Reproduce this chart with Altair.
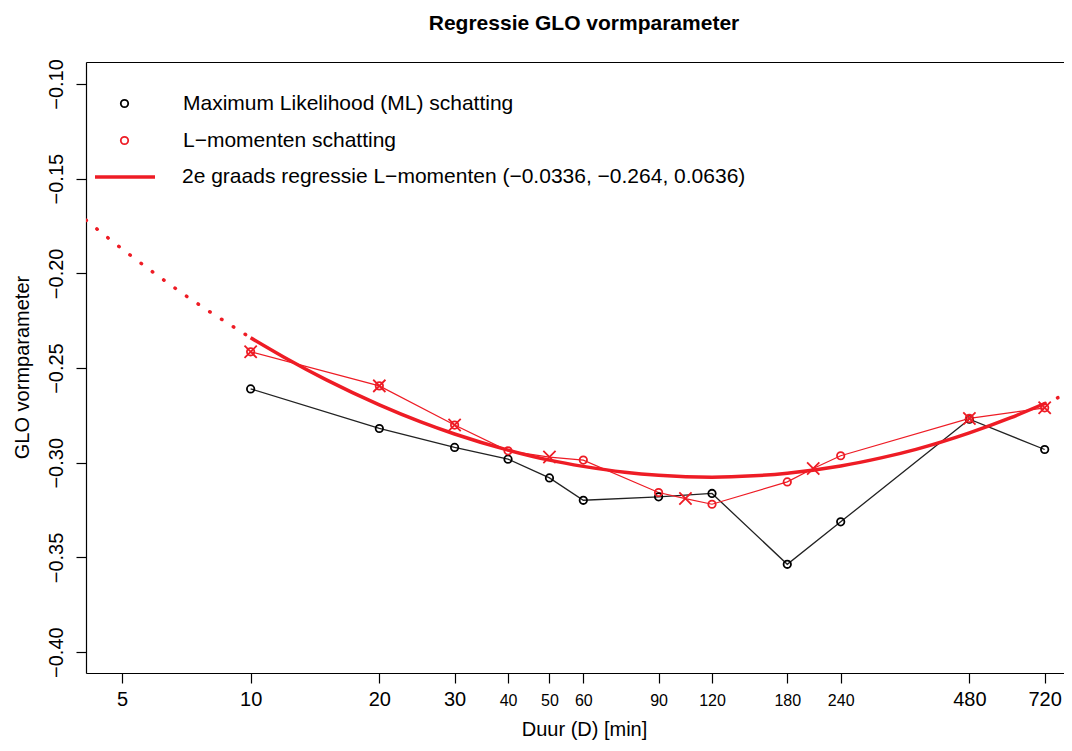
import altair as alt
import pandas as pd

# --- data ---
duur = [10, 20, 30, 40, 50, 60, 90, 120, 180, 240, 480, 720]
ml = [-0.2610, -0.2819, -0.2919, -0.2981, -0.3080, -0.3198, -0.3180, -0.3162, -0.3536, -0.3312, -0.2770, -0.2930]

lmom_duur = [10, 20, 30, 40, 60, 90, 120, 180, 240, 480, 720]
lmom = [-0.2414, -0.2594, -0.2801, -0.2937, -0.2986, -0.3157, -0.3219, -0.3101, -0.2963, -0.2766, -0.2710]

kruis_duur = [10, 20, 30, 50, 104, 207, 480, 720]
kruis = [-0.2414, -0.2594, -0.2801, -0.2970, -0.3189, -0.3030, -0.2766, -0.2710]

curve_duur = [10, 12, 15, 20, 25, 30, 40, 50, 60, 75, 90, 120, 150, 180, 240, 300, 360, 480, 600, 720]
curve = [-0.2340, -0.2444, -0.2561, -0.2694, -0.2784, -0.2848, -0.2933, -0.2986, -0.3019, -0.3050,
         -0.3066, -0.3076, -0.3069, -0.3055, -0.3017, -0.2973, -0.2929, -0.2842, -0.2762, -0.2687]

dot_l_duur = [4.12, 4.5, 5, 6, 7, 8, 10]
dot_l = [-0.1719, -0.1789, -0.1871, -0.2005, -0.2113, -0.2201, -0.2340]
dot_r_duur = [720, 760, 799]
dot_r = [-0.2687, -0.2664, -0.2641]

x_ticks = [5, 10, 20, 30, 40, 50, 60, 90, 120, 180, 240, 480, 720]
small_ticks = [40, 50, 60, 90, 120, 180, 240]
y_ticks = [-0.40, -0.35, -0.30, -0.25, -0.20, -0.15, -0.10]

lab_ml = "Maximum Likelihood (ML) schatting"
lab_lm = "L\u2212momenten schatting"
lab_reg = "2e graads regressie L\u2212momenten (\u22120.0336, \u22120.264, 0.0636)"

RED = "#ee1c25"
FONT = "Liberation Sans"

df_ml = pd.DataFrame({"duur": duur, "waarde": ml, "methode": lab_ml})
df_lm = pd.DataFrame({"duur": lmom_duur, "waarde": lmom, "methode": lab_lm})
df_pts = pd.concat([df_ml, df_lm], ignore_index=True)
df_x = pd.DataFrame({"duur": kruis_duur, "waarde": kruis})
red_line = pd.concat([df_lm[["duur", "waarde"]], df_x]).drop_duplicates("duur").sort_values("duur")
df_curve = pd.DataFrame({"duur": curve_duur, "waarde": curve, "reeks": lab_reg})
df_dl = pd.DataFrame({"duur": dot_l_duur, "waarde": dot_l})
df_dr = pd.DataFrame({"duur": dot_r_duur, "waarde": dot_r})

small_test = "indexof([" + ",".join(str(v) for v in small_ticks) + "], datum.value) >= 0"

xs = alt.Scale(type="log", domain=[4.12, 799], nice=False)
ys = alt.Scale(domain=[-0.411, -0.0884], nice=False, zero=False)

x_none = alt.X("duur:Q", scale=xs, axis=None)
y_none = alt.Y("waarde:Q", scale=ys, axis=None)

x_bottom = alt.X(
    "duur:Q", scale=xs,
    axis=alt.Axis(
        values=x_ticks, format="d", grid=False, orient="bottom",
        domainColor="black", domainWidth=1.2, tickColor="black", tickWidth=1.2, tickSize=10,
        labelFont=FONT, labelColor="black",
        labelFontSize={"condition": {"test": small_test, "value": 16}, "value": 20},
        labelBaseline="alphabetic", labelPadding=22, labelFlush=False, labelOverlap=False,
        title="Duur (D) [min]", titleFont=FONT, titleFontSize=20, titleFontWeight="normal", titleColor="black",
        titleX=498, titleY=62, titleBaseline="alphabetic", titleAlign="center",
    ),
)
x_top = alt.X(
    "duur:Q", scale=xs,
    axis=alt.Axis(orient="top", labels=False, ticks=False, grid=False, domain=True,
                  domainColor="black", domainWidth=1.2, title=None),
)
y_left = alt.Y(
    "waarde:Q", scale=ys,
    axis=alt.Axis(
        values=y_ticks, format=".2f", grid=False,
        domainColor="black", domainWidth=1.2, tickColor="black", tickWidth=1.2, tickSize=10,
        labelFont=FONT, labelFontSize=20, labelColor="black", labelAngle=270,
        labelAlign="center", labelBaseline="middle", labelPadding=20, labelFlush=False, labelOverlap=False,
        title="GLO vormparameter", titleFont=FONT, titleFontSize=20, titleFontWeight="normal", titleColor="black",
        titleX=-64, titleY=305, titleAngle=270, titleAlign="center", titleBaseline="middle",
    ),
)

line_ml = alt.Chart(df_ml).mark_line(color="#222222", strokeWidth=1.3, clip=True).encode(x=x_bottom, y=y_left)
line_lm = alt.Chart(red_line).mark_line(color=RED, strokeWidth=1.2, clip=True).encode(x=x_top, y=y_none)
dots_l = alt.Chart(df_dl).mark_line(color=RED, strokeWidth=3.5, strokeDash=[0.5, 13.5], strokeCap="round", clip=True).encode(x=x_none, y=y_none)
dots_r = alt.Chart(df_dr).mark_line(color=RED, strokeWidth=3.5, strokeDash=[0.5, 13.5], strokeCap="round", clip=True).encode(x=x_none, y=y_none)

reg = alt.Chart(df_curve).mark_line(strokeWidth=3.5, clip=True, interpolate="monotone").encode(
    x=x_none, y=y_none,
    stroke=alt.Stroke(
        "reeks:N", scale=alt.Scale(domain=[lab_reg], range=[RED]),
        legend=alt.Legend(
            orient="none", legendX=7, legendY=83, title=None, padding=0,
            symbolType="stroke", symbolSize=3600, symbolStrokeWidth=3.5, symbolStrokeColor=RED,
            labelFont=FONT, labelFontSize=21, labelColor="black", labelOffset=25, labelLimit=900,
        ),
    ),
)

pts = alt.Chart(df_pts).mark_point(shape="circle", filled=False, size=55, strokeWidth=1.8, opacity=1, clip=True).encode(
    x=x_none, y=y_none,
    color=alt.Color(
        "methode:N", scale=alt.Scale(domain=[lab_ml, lab_lm], range=["black", RED]),
        legend=alt.Legend(
            orient="none", legendX=28, legendY=31, title=None, padding=0,
            symbolType="circle", symbolSize=55, symbolStrokeWidth=1.8, symbolFillColor="transparent",
            labelFont=FONT, labelFontSize=21, labelColor="black", labelOffset=48, labelLimit=900,
            rowPadding=15,
        ),
    ),
)

kruisen = alt.Chart(df_x).mark_point(shape="M-1,-1L1,1M-1,1L1,-1", filled=False, size=150, strokeWidth=1.8,
                                     color=RED, opacity=1, clip=True).encode(x=x_none, y=y_none)

chart = alt.layer(line_ml, line_lm, dots_l, dots_r, reg, pts, kruisen).resolve_axis(
    x="independent", y="independent"
).properties(
    width=978, height=611,
    padding={"left": 78, "top": 54, "right": 0, "bottom": 67},
    autosize=alt.AutoSizeParams(type="none"),
    title=alt.TitleParams("Regressie GLO vormparameter", font=FONT, fontSize=21, fontWeight="bold",
                          color="black", anchor="middle", dx=9, offset=14, baseline="middle"),
).configure_view(stroke=None).configure(background="white")

chart.save("out.html", embed_options={"renderer": "svg", "actions": False})
